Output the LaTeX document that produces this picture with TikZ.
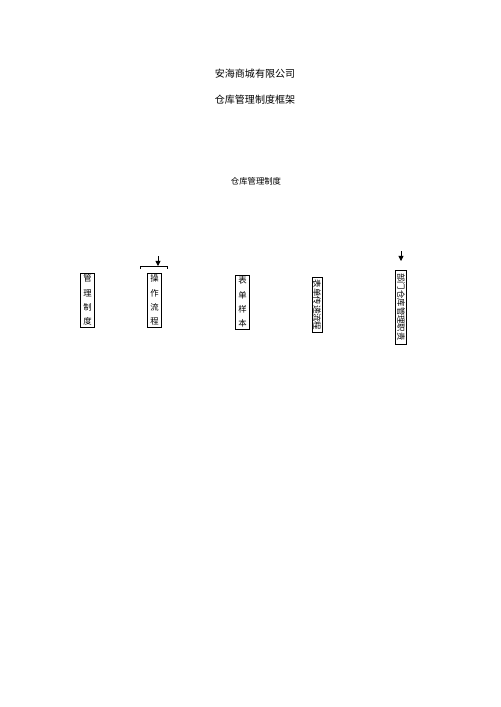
\documentclass[tikz,border=0pt]{standalone}
\usepackage{fontspec}
\setmainfont{Liberation Serif}
\newfontfamily\cjk{Noto Sans CJK SC}
\usetikzlibrary{arrows.meta,calc}

\begin{document}
\begin{tikzpicture}[
    x=0.42mm, y=-0.42mm,
    title/.style={font=\cjk\fontsize{12}{14}\selectfont},
    colbox/.style={draw, thin, anchor=north, inner xsep=3.5pt, inner ysep=2pt, align=center, font=\cjk\fontsize{10}{17}\selectfont},
    sidebox/.style={draw, thin, rotate=-90, inner xsep=3pt, inner ysep=1pt, font=\cjk\fontsize{10}{12}\selectfont},
    tip/.style={-{Triangle[length=6pt,width=6pt]}, line width=1pt}
]
    \useasboundingbox (0,0) rectangle (500,707);

    \node [title] (company) at (255,74) {安海商城有限公司};
    \node [title] (frame) at (255,100) {仓库管理制度框架};
    \node [font=\cjk\fontsize{10}{12}\selectfont] (root) at (256,181) {仓库管理制度};

    % column boxes
    \node [colbox] (rules) at (87.5,273) {管\\理\\制\\度};
    \node [colbox] (ops) at (154.5,273) {操\\作\\流\\程};
    \node [colbox] (forms) at (242.5,275) {表\\单\\样\\本};
    \node [sidebox] (flow) at (317,305) {表单传递流程};
    \node [sidebox, inner xsep=4pt, inner ysep=2pt] (duty) at (401,307) {部门仓库管理职责};

    % bracket and arrows
    \coordinate (bl) at (140,266);
    \coordinate (br) at (167,266);
    \coordinate (bm) at (158,266);
    \coordinate (opsin) at (158,256);
    \draw [thin] ($(bl)+(0,3)$) -- (bl) -- (br) -- ($(br)+(0,3)$);
    \draw [tip] (opsin) -- (bm);
    \coordinate (dutyin) at (401,251);
    \coordinate (dutyend) at (401,261);
    \draw [tip] (dutyin) -- (dutyend);
\end{tikzpicture}
\end{document}
